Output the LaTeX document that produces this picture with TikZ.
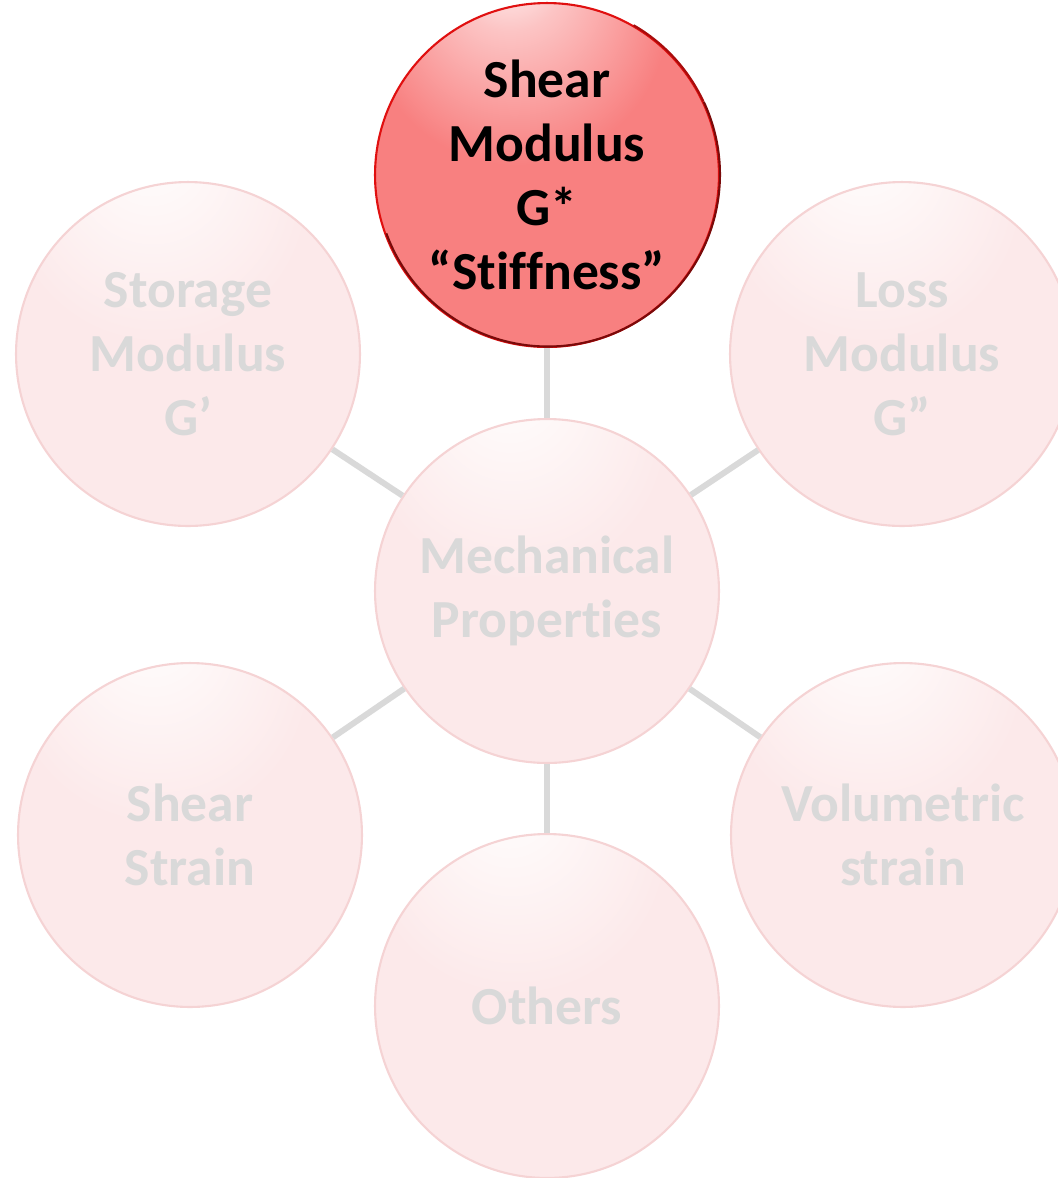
\documentclass[tikz,border=0pt]{standalone}
\usepackage{fontspec}
\setmainfont[Ligatures=NoCommon]{Carlito}

\definecolor{hotfill}{HTML}{F88080}
\definecolor{hotlight}{HTML}{FCC4C4}
\definecolor{hotedge}{HTML}{E87676}
\definecolor{hotline}{HTML}{E01010}
\definecolor{hotmid}{HTML}{A80C0C}
\definecolor{hotdark}{HTML}{7A0A0A}
\definecolor{palefill}{HTML}{FCE9EA}
\definecolor{palelight}{HTML}{FEF7F7}
\definecolor{paleedge}{HTML}{F9E2E3}
\definecolor{paleline}{HTML}{F5D3D4}
\definecolor{paletext}{HTML}{D9D9D9}
\definecolor{linkgray}{HTML}{D9D9D9}

\pgfdeclareradialshading{hotgloss}{\pgfpoint{-6bp}{32bp}}{color(0bp)=(white); color(8bp)=(hotlight); color(22bp)=(hotfill); color(62bp)=(hotfill); color(82bp)=(hotedge)}
\pgfdeclareradialshading{palegloss}{\pgfpoint{-6bp}{32bp}}{color(0bp)=(white); color(8bp)=(palelight); color(22bp)=(palefill); color(62bp)=(palefill); color(82bp)=(paleedge)}

\tikzset{
  bubble/.style={circle, minimum size=6.88cm, inner sep=0pt, align=center,
    line width=1.2pt, font=\fontsize{30.5}{36.5}\selectfont\bfseries},
  hot/.style={bubble, draw=hotline, shading=hotgloss, text=black},
  faded/.style={bubble, draw=paleline, shading=palegloss, text=paletext},
  link/.style={draw=linkgray, line width=3.4pt}
}

\begin{document}
\begin{tikzpicture}[x=0.02cm,y=-0.02cm]
  \useasboundingbox (0,0) rectangle (1058,1178);

  \node[faded] (0) at (547,591) {Mechanical\\Properties};
  \node[hot] (1) at (547,175) {Shear\\Modulus\\G*\\“Stiffness”};
  \node[faded] (2) at (188,354) {Storage\\Modulus\\G’};
  \node[faded] (3) at (902,354) {Loss\\Modulus\\G”};
  \node[faded] (4) at (190,835) {Shear\\Strain};
  \node[faded] (5) at (903,835) {Volumetric\\strain};
  \node[faded] (6) at (547,1006) {Others};

  % darker rim on the lower right of the selected bubble
  \draw[hotmid, line width=1.2pt] (1.60) arc[start angle=60, end angle=25, radius=3.44cm];
  \draw[hotdark, line width=1.2pt] (1.25) arc[start angle=25, end angle=-160, radius=3.44cm];

  \draw[link] (0) -- (1);
  \draw[link] (0) -- (2);
  \draw[link] (0) -- (3);
  \draw[link] (0) -- (4);
  \draw[link] (0) -- (5);
  \draw[link] (0) -- (6);
\end{tikzpicture}
\end{document}
